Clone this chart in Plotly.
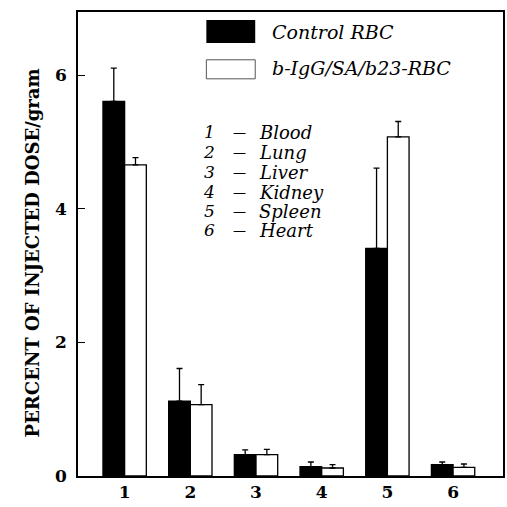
import plotly.graph_objects as go

# Organ uptake, percent of injected dose per gram
categories = [1, 2, 3, 4, 5, 6]
organs = ["Blood", "Lung", "Liver", "Kidney", "Spleen", "Heart"]
series_names = ["Control RBC", "b-IgG/SA/b23-RBC"]
control_mean = [5.61, 1.12, 0.32, 0.14, 3.41, 0.17]
control_err = [0.50, 0.49, 0.07, 0.07, 1.20, 0.04]
treated_mean = [4.66, 1.07, 0.32, 0.12, 5.08, 0.13]
treated_err = [0.11, 0.30, 0.08, 0.05, 0.23, 0.05]
y_ticks = [0, 2, 4, 6]
y_title = "PERCENT OF INJECTED DOSE/gram"

SERIF = "DejaVu Serif, serif"

fig = go.Figure()
for name, mean, err, fill in [
    (series_names[0], control_mean, control_err, "black"),
    (series_names[1], treated_mean, treated_err, "white"),
]:
    fig.add_trace(go.Bar(
        x=categories, y=mean, name=name,
        marker=dict(color=fill, line=dict(color="black", width=1.3)),
        error_y=dict(type="data", symmetric=False, array=err,
                     arrayminus=[0] * len(err), color="black",
                     thickness=1.3, width=3),
        showlegend=False,
    ))

# Legend swatches and labels
swatches = [("black", 0.983, 0.933, 0.957), ("white", 0.897, 0.856, 0.879)]
for (fill, y1, y0, ty), name in zip(swatches, series_names):
    fig.add_shape(type="rect", xref="paper", yref="paper",
                  x0=0.302, x1=0.417, y0=y0, y1=y1,
                  fillcolor=fill,
                  line=dict(color="#555555" if fill == "white" else "black",
                            width=1 if fill == "white" else 0))
    fig.add_annotation(xref="paper", yref="paper", x=0.452, y=ty,
                       text=f"<i>{name}</i>", showarrow=False,
                       xanchor="left", yanchor="middle",
                       font=dict(family=SERIF, size=19, color="black"))

# Key for the category numbers
row_y = [0.741, 0.698, 0.655, 0.612, 0.571, 0.530]
for num, organ, ry in zip(categories, organs, row_y):
    fig.add_annotation(xref="paper", yref="paper", x=0.309, y=ry,
                       text=f"<i>{num}</i>", showarrow=False,
                       xanchor="center", yanchor="middle",
                       font=dict(family=SERIF, size=17, color="black"))
    fig.add_annotation(xref="paper", yref="paper", x=0.379, y=ry,
                       text="—", showarrow=False,
                       xanchor="center", yanchor="middle",
                       font=dict(family=SERIF, size=13, color="black"))
    fig.add_annotation(xref="paper", yref="paper", x=0.4215, y=ry,
                       text=f"<i>{organ}</i>", showarrow=False,
                       xanchor="left", yanchor="middle",
                       font=dict(family=SERIF, size=18, color="black"))

# Vertical axis title
fig.add_annotation(xref="paper", yref="paper", x=-0.108, y=0.48,
                   text=f"<b>{y_title}</b>", showarrow=False, textangle=-90,
                   xanchor="center", yanchor="middle",
                   font=dict(family=SERIF, size=18, color="black"))

fig.update_layout(
    width=507, height=507,
    margin=dict(l=78, r=2, t=12, b=31),
    paper_bgcolor="white", plot_bgcolor="white",
    barmode="group", bargap=0.34, bargroupgap=0,
    xaxis=dict(
        range=[0.29, 6.76], tickvals=categories, ticktext=[str(c) for c in categories],
        showgrid=False, zeroline=False, showline=True, linecolor="black",
        linewidth=1.5, mirror=True, ticks="",
        tickfont=dict(family=SERIF, size=17, color="black", weight="bold"),
    ),
    yaxis=dict(
        range=[0, 6.95], tickvals=y_ticks, ticktext=[str(t) for t in y_ticks],
        showgrid=False, zeroline=False, showline=True, linecolor="black",
        linewidth=1.5, mirror=True, ticks="inside", ticklen=7, tickwidth=1,
        tickcolor="black", ticklabelstandoff=6,
        tickfont=dict(family=SERIF, size=17, color="black", weight="bold"),
    ),
)

fig.write_html("out.html")
